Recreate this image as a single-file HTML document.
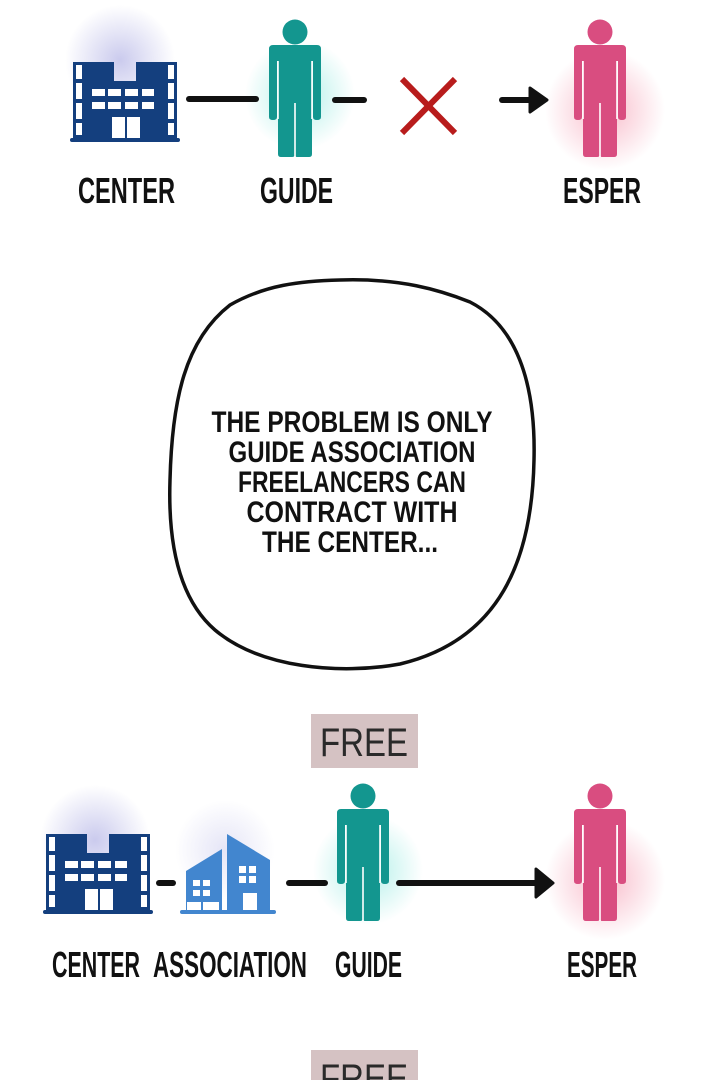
<!DOCTYPE html>
<html><head><meta charset="utf-8"><style>
html,body{margin:0;padding:0;background:#fff;}
svg{display:block;}
.lab{font-family:"Liberation Sans Narrow","Liberation Sans",sans-serif;font-size:36px;fill:#111;font-weight:bold;}
.bub{font-family:"Liberation Sans Narrow","Liberation Sans",sans-serif;font-size:30px;fill:#111;font-weight:bold;}
.free{font-family:"Liberation Sans",sans-serif;font-size:40px;fill:#2a2a2a;}
</style></head><body>
<svg width="720" height="1080" viewBox="0 0 720 1080" xmlns="http://www.w3.org/2000/svg">
<defs>
<radialGradient id="gp"><stop offset="0" stop-color="#8a8ad8" stop-opacity="0.45"/><stop offset="1" stop-color="#8a8ad8" stop-opacity="0"/></radialGradient>
<radialGradient id="gt"><stop offset="0" stop-color="#40d8c8" stop-opacity="0.4"/><stop offset="1" stop-color="#40d8c8" stop-opacity="0"/></radialGradient>
<radialGradient id="gr"><stop offset="0" stop-color="#f06a8a" stop-opacity="0.45"/><stop offset="1" stop-color="#f06a8a" stop-opacity="0"/></radialGradient>
<g id="bld">
<path d="M3,0 H44 V19 H66 V0 H107 V78 H3 Z" fill="#143f7e"/>
<rect x="0" y="76" width="110" height="4" rx="2" fill="#143f7e"/>
<g fill="#fff">
<rect x="6" y="3" width="6" height="14"/><rect x="6" y="21" width="6" height="16"/><rect x="6" y="41" width="6" height="16"/><rect x="6" y="61" width="6" height="12"/>
<rect x="98" y="3" width="6" height="14"/><rect x="98" y="21" width="6" height="16"/><rect x="98" y="41" width="6" height="16"/><rect x="98" y="61" width="6" height="12"/>
<rect x="22" y="27" width="13" height="7"/><rect x="38" y="27" width="13" height="7"/><rect x="55" y="27" width="13" height="7"/><rect x="72" y="27" width="12" height="7"/>
<rect x="22" y="40" width="13" height="7"/><rect x="38" y="40" width="13" height="7"/><rect x="55" y="40" width="13" height="7"/><rect x="72" y="40" width="12" height="7"/>
<rect x="42" y="55" width="13" height="21"/><rect x="57" y="55" width="13" height="21"/>
</g>
</g>
<g id="per">
<circle cx="0" cy="13" r="12.5"/>
<path d="M-26,30 Q-26,26 -22,26 H22 Q26,26 26,30 V98 Q26,101 22,101 Q18,101 18,98 V42 H17 V135 Q17,138 14,138 H2 Q0,138 0,135 V84 H0 V135 Q0,138 -3,138 H-14 Q-17,138 -17,135 V42 H-18 V98 Q-18,101 -22,101 Q-26,101 -26,98 Z"/>
<path d="M-17,42 V100 M17,42 V100 M0,84 V138" stroke="#fff" stroke-width="1.6" fill="none"/>
</g>
</defs>

<circle cx="120" cy="60" r="55" fill="url(#gp)"/>
<circle cx="300" cy="95" r="55" fill="url(#gt)"/>
<circle cx="605" cy="110" r="60" fill="url(#gr)"/>
<circle cx="95" cy="840" r="55" fill="url(#gp)"/>
<circle cx="225" cy="850" r="50" fill="url(#gp)" opacity="0.5"/>
<circle cx="368" cy="870" r="55" fill="url(#gt)"/>
<circle cx="605" cy="880" r="60" fill="url(#gr)"/>

<use href="#bld" transform="translate(70,62)"/>
<use href="#per" transform="translate(295,19)" fill="#13968f"/>
<use href="#per" transform="translate(600,19)" fill="#d94d80"/>
<g stroke="#111" stroke-width="6" stroke-linecap="round" fill="none">
<line x1="189" y1="99" x2="256" y2="99"/>
<line x1="335" y1="100" x2="364" y2="100"/>
<line x1="502" y1="100" x2="532" y2="100"/>
</g>
<path d="M530,88 L547,100 L530,112 Z" fill="#111" stroke="#111" stroke-width="3" stroke-linejoin="round"/>
<g stroke="#b81c1c" stroke-width="6" stroke-linecap="butt">
<line x1="402" y1="79" x2="455" y2="133"/>
<line x1="455" y1="79" x2="402" y2="133"/>
</g>
<text class="lab" x="78" y="203" textLength="97" lengthAdjust="spacingAndGlyphs">CENTER</text>
<text class="lab" x="260" y="203" textLength="73" lengthAdjust="spacingAndGlyphs">GUIDE</text>
<text class="lab" x="563" y="203" textLength="78" lengthAdjust="spacingAndGlyphs">ESPER</text>

<path d="M340,280 C400,278 440,290 470,302 C515,325 536,380 534,460 C532,560 500,640 400,664 C340,675 260,668 215,630 C178,598 168,540 170,480 C172,400 185,340 230,305 C265,285 300,281 340,280 Z" fill="#fff" stroke="#111" stroke-width="3.5"/>
<g class="bub" text-anchor="middle">
<text x="352" y="432" textLength="281" lengthAdjust="spacingAndGlyphs">THE PROBLEM IS ONLY</text>
<text x="352" y="462" textLength="247" lengthAdjust="spacingAndGlyphs">GUIDE ASSOCIATION</text>
<text x="352" y="492" textLength="228" lengthAdjust="spacingAndGlyphs">FREELANCERS CAN</text>
<text x="352" y="522" textLength="211" lengthAdjust="spacingAndGlyphs">CONTRACT WITH</text>
<text x="350" y="552" textLength="176" lengthAdjust="spacingAndGlyphs">THE CENTER...</text>
</g>

<rect x="311" y="714" width="107" height="54" fill="#d5c2c3"/>
<text class="free" x="364" y="756" text-anchor="middle" textLength="88" lengthAdjust="spacingAndGlyphs">FREE</text>

<use href="#bld" transform="translate(43,834)"/>
<g fill="#4286cf">
<path d="M186,871 L222,849 V910 H186 Z"/>
<path d="M227,834 L270,860 V910 H227 Z"/>
<rect x="180" y="910" width="96" height="4" rx="2"/>
</g>
<g fill="#fff">
<rect x="193" y="880" width="7" height="6"/><rect x="203" y="880" width="7" height="6"/>
<rect x="193" y="890" width="7" height="6"/><rect x="203" y="890" width="7" height="6"/>
<rect x="187" y="902" width="14" height="8"/><rect x="203" y="902" width="16" height="8"/>
<rect x="239" y="866" width="7" height="7"/><rect x="249" y="866" width="7" height="7"/>
<rect x="239" y="876" width="7" height="7"/><rect x="249" y="876" width="7" height="7"/>
<rect x="243" y="893" width="14" height="17"/>
</g>
<use href="#per" transform="translate(363,783)" fill="#13968f"/>
<use href="#per" transform="translate(600,783)" fill="#d94d80"/>
<g stroke="#111" stroke-width="6" stroke-linecap="round" fill="none">
<line x1="159" y1="883" x2="173" y2="883"/>
<line x1="289" y1="883" x2="325" y2="883"/>
<line x1="399" y1="883" x2="537" y2="883"/>
</g>
<path d="M536,869 L553,883 L536,897 Z" fill="#111" stroke="#111" stroke-width="3" stroke-linejoin="round"/>
<text class="lab" x="52" y="977" textLength="88" lengthAdjust="spacingAndGlyphs">CENTER</text>
<text class="lab" x="153" y="977" textLength="154" lengthAdjust="spacingAndGlyphs">ASSOCIATION</text>
<text class="lab" x="335" y="977" textLength="67" lengthAdjust="spacingAndGlyphs">GUIDE</text>
<text class="lab" x="567" y="977" textLength="70" lengthAdjust="spacingAndGlyphs">ESPER</text>

<rect x="311" y="1050" width="107" height="54" fill="#d5c2c3"/>
<text class="free" x="364" y="1092" text-anchor="middle" textLength="88" lengthAdjust="spacingAndGlyphs">FREE</text>
</svg>
</body></html>
